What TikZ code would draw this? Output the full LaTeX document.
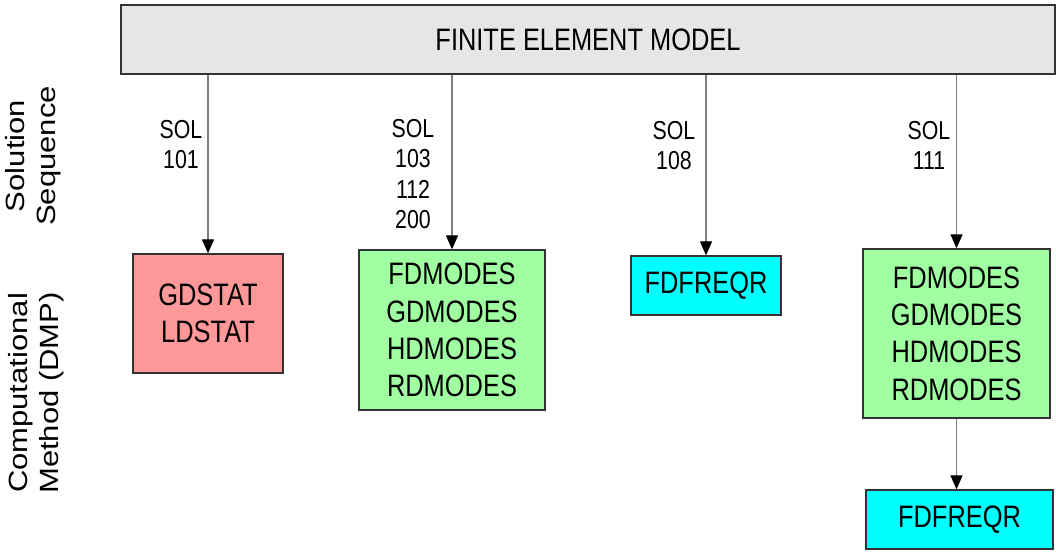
\documentclass[tikz,border=0pt]{standalone}
\usepackage{fontspec}
\setmainfont{Liberation Sans}[FakeStretch=0.82]
\newfontfamily\sidefont{Liberation Sans}
\usetikzlibrary{calc,positioning,arrows.meta}
\definecolor{femgray}{HTML}{E6E6E6}
\definecolor{statred}{HTML}{FF9999}
\definecolor{modegreen}{HTML}{A0FFA0}
\definecolor{freqcyan}{HTML}{00FFFF}
\definecolor{edge}{HTML}{333333}
\definecolor{wire}{HTML}{808080}

\begin{document}
\begin{tikzpicture}[x=1pt,y=-1pt,
  box/.style={draw=edge,line width=1.4pt,inner sep=0pt,align=center,
    font=\fontsize{31}{37.3}\selectfont},
  sol/.style={align=center,font=\fontsize{26}{30.5}\selectfont},
  side/.style={rotate=90,yscale=0.85,align=center,
    font=\sidefont\fontsize{31}{36}\selectfont},
  feed/.style={wire,line width=1.3pt,-{Triangle[length=14pt,width=12pt,color=black]}}]
\useasboundingbox (0,0) rectangle (1056,552);
% model on top, one DMP per solution sequence below
\node[box,fill=femgray,minimum width=934pt,minimum height=69pt] (fem) at (588,39.5) {FINITE ELEMENT MODEL};
\node[box,fill=statred,minimum width=150pt,minimum height=119pt] (stat) at (208,313.5) {GDSTAT\\LDSTAT};
\node[box,fill=modegreen,minimum width=186pt,minimum height=160pt] (modesA) at (452,330) {FDMODES\\GDMODES\\HDMODES\\RDMODES};
\node[box,fill=freqcyan,minimum width=150pt,minimum height=59pt] (freqA) at (706,285.5) {FDFREQR};
\node[box,fill=modegreen,minimum width=187pt,minimum height=169pt] (modesB) at (956.5,333.5) {FDMODES\\GDMODES\\HDMODES\\RDMODES};
\node[box,fill=freqcyan,minimum width=187pt,minimum height=59pt] (freqB) at (959.5,519.5) {FDFREQR};
\draw[feed] (fem.south -| stat.north) -- (stat.north);
\draw[feed] (fem.south -| modesA.north) -- (modesA.north);
\draw[feed] (fem.south -| freqA.north) -- (freqA.north);
\draw[feed] (fem.south -| modesB.north) -- (modesB.north);
\draw[feed] (modesB.south) -- (modesB.south |- freqB.north);
% SOL numbers beside the arrows
\node[sol] (sol101) at (181,144.5) {SOL\\101};
\node[sol] (sol103) at (413,174) {SOL\\103\\112\\200};
\node[sol] (sol108) at (674,145.5) {SOL\\108};
\node[sol] (sol111) at (929,145.5) {SOL\\111};
% row titles
\node[side] (rowsol) at (33,156) {Solution\\Sequence};
\node[side] (rowdmp) at (36,393) {Computational\\Method (DMP)};
\end{tikzpicture}
\end{document}
